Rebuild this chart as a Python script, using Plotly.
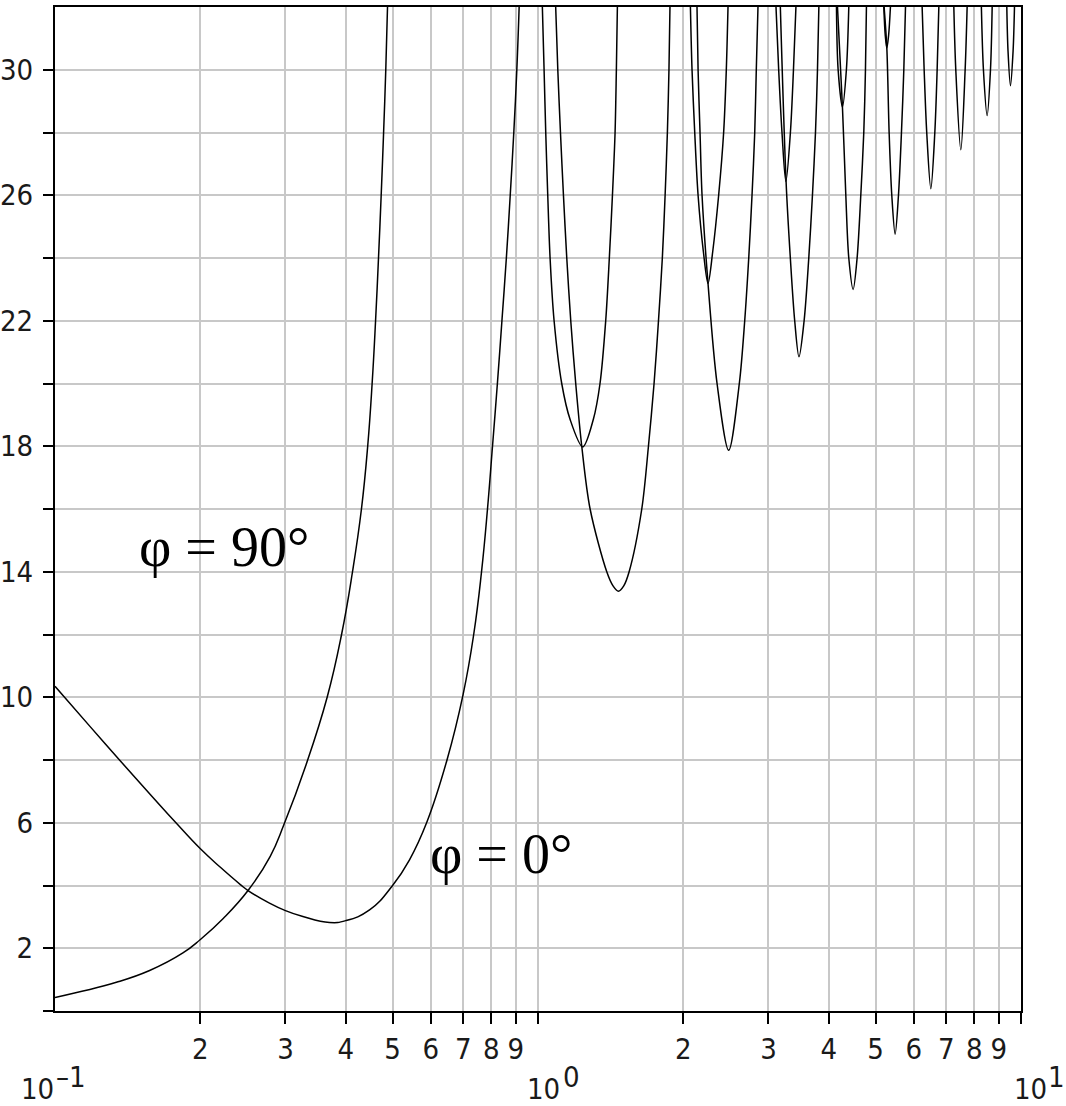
import math
import plotly.graph_objects as go

# ---------------- data ----------------
# phi = 0 deg curve, branches between asymptotes
p0_b1_x = [0.100, 0.118, 0.136, 0.158, 0.178, 0.200, 0.220, 0.242, 0.251, 0.278, 0.300, 0.326, 0.370,
           0.400, 0.448, 0.500, 0.542, 0.588, 0.648, 0.700, 0.736, 0.764, 0.786, 0.805,
           0.824, 0.842, 0.860, 0.876, 0.891, 0.904, 0.914]
p0_b1_y = [10.35, 9.08, 8.00, 6.88, 6.00, 5.17, 4.58, 4.03, 3.84, 3.44, 3.20, 3.01, 2.82,
           2.88, 3.22, 4.00, 4.82, 6.00, 8.00, 10.1, 12.0, 14.0, 16.0, 18.0,
           20.0, 22.0, 24.0, 26.0, 28.0, 30.0, 32.0]
p0_b2_x = [1.088, 1.099, 1.113, 1.129, 1.147, 1.169, 1.197, 1.232, 1.282, 1.388, 1.430, 1.467,
           1.505, 1.544, 1.640, 1.693, 1.739, 1.776, 1.809, 1.833, 1.853, 1.867, 1.876]
p0_b2_y = [32, 30, 28, 26, 24, 22, 20, 18, 16, 14, 13.55, 13.38,
           13.55, 14, 16, 18, 20, 22, 24, 26, 28, 30, 32]
p0_b3_x = [2.134, 2.145, 2.165, 2.186, 2.249, 2.348, 2.482, 2.611, 2.679, 2.731,
           2.774, 2.810, 2.831, 2.854]
p0_b3_y = [32, 30, 28, 26, 23.19, 20, 17.87, 20, 22, 24, 26, 28, 30, 32]
p0_b4_x = [3.175, 3.263, 3.330, 3.400, 3.470, 3.556, 3.636, 3.700, 3.754, 3.790, 3.815]
p0_b4_y = [32, 26.44, 24, 22, 20.85, 22, 24, 26, 28, 30, 32]
p0_b5_x = [4.169, 4.269, 4.338, 4.400, 4.492, 4.578, 4.659, 4.726, 4.764, 4.786]
p0_b5_y = [32, 28.81, 26, 24, 23.0, 24, 26, 28, 30, 32]
p0_b6_x = [5.207, 5.275, 5.333, 5.401, 5.488, 5.576, 5.656, 5.720, 5.766]
p0_b6_y = [32, 30.69, 28, 26, 24.76, 26, 28, 30, 32]
p0_b7_x = [6.242, 6.302, 6.380, 6.506, 6.631, 6.705, 6.759]
p0_b7_y = [32, 30, 28, 26.21, 28, 30, 32]
p0_b8_x = [7.260, 7.328, 7.506, 7.662, 7.735]
p0_b8_y = [32, 30, 27.45, 30, 32]
p0_b9_x = [8.279, 8.360, 8.509, 8.646, 8.716]
p0_b9_y = [32, 30, 28.54, 30, 32]
p0_b10_x = [9.346, 9.400, 9.511, 9.630, 9.694]
p0_b10_y = [32, 30.6, 29.49, 30.6, 32]

# phi = 90 deg curve
p90_b1_x = [0.100, 0.134, 0.157, 0.184, 0.200, 0.223, 0.251, 0.279, 0.298, 0.331, 0.366,
            0.392, 0.413, 0.431, 0.444, 0.4535, 0.4610, 0.4675, 0.4735, 0.4790, 0.4840, 0.4880]
p90_b1_y = [0.43, 0.915, 1.29, 1.85, 2.28, 2.95, 3.84, 4.93, 5.95, 7.85, 10.0,
            12.0, 14.0, 16.0, 18.0, 20, 22, 24, 26, 28, 30, 32]
p90_b2_x = [1.021, 1.0294, 1.0376, 1.0476, 1.0593, 1.0797, 1.1198, 1.165, 1.238, 1.302,
            1.344, 1.381, 1.405, 1.426, 1.444, 1.453, 1.460]
p90_b2_y = [32, 30, 28, 26, 24, 22, 20, 18.86, 17.98, 18.86, 20, 22, 24, 26, 28, 30, 32]
p90_b3_x = [2.068, 2.084, 2.111, 2.145, 2.200, 2.249, 2.300, 2.366, 2.423, 2.454, 2.474]
p90_b3_y = [32, 30, 28, 26, 24.2, 23.19, 24.2, 26, 28, 30, 32]
p90_b4_x = [3.110, 3.150, 3.200, 3.260, 3.331, 3.380, 3.420]
p90_b4_y = [32, 30, 28, 26.44, 28, 30, 32]
p90_b5_x = [4.149, 4.182, 4.269, 4.350, 4.400]
p90_b5_y = [32, 30, 28.81, 30, 32]
p90_b6_x = [5.200, 5.235, 5.275, 5.320, 5.366]
p90_b6_y = [32, 31.1, 30.69, 31.1, 32]

# ticks
x_tickvals = [0.2, 0.3, 0.4, 0.5, 0.6, 0.7, 0.8, 0.9, 1, 2, 3, 4, 5, 6, 7, 8, 9, 10]
x_ticktext = ["2", "3", "4", "5", "6", "7", "8", "9", "", "2", "3", "4", "5", "6", "7", "8", "9", ""]
y_tickvals = list(range(0, 32, 2))
y_ticktext = ["" if v % 4 == 0 else str(v) for v in y_tickvals]
decade_exp = ["\u20131", "0", "1"]
decade_pos = [0.1, 1, 10]

labels = ["\u03c6 = 90\u00b0", "\u03c6 = 0\u00b0"]
label_x = [0.148, 0.592]
label_y = [14.78, 5.0]


def join(branches):
    xs, ys = [], []
    for bx, by in branches:
        xs += list(bx) + [None]
        ys += list(by) + [None]
    return xs, ys


# wide low-frequency branches (smoothed more) and the narrow resonance dips
low_x, low_y = join([(p0_b1_x, p0_b1_y), (p90_b1_x, p90_b1_y)])
dips_x, dips_y = join([(p0_b2_x, p0_b2_y), (p0_b3_x, p0_b3_y), (p0_b4_x, p0_b4_y),
                       (p0_b5_x, p0_b5_y), (p0_b6_x, p0_b6_y), (p0_b7_x, p0_b7_y), (p0_b8_x, p0_b8_y),
                       (p0_b9_x, p0_b9_y), (p0_b10_x, p0_b10_y),
                       (p90_b2_x, p90_b2_y), (p90_b3_x, p90_b3_y),
                       (p90_b4_x, p90_b4_y), (p90_b5_x, p90_b5_y), (p90_b6_x, p90_b6_y)])

TICKFONT = dict(family="Liberation Sans Narrow, DejaVu Sans Condensed, sans-serif", size=29, color="#1a1a1a")

fig = go.Figure()
for xs, ys, nm, sm in [(low_x, low_y, "low", 1.3), (dips_x, dips_y, "dips", 0.9)]:
    fig.add_trace(go.Scatter(x=xs, y=ys, mode="lines", name=nm, connectgaps=False,
                             line=dict(color="black", width=1.5, shape="spline", smoothing=sm),
                             showlegend=False, hoverinfo="skip"))

fig.update_xaxes(type="log", range=[-1, 1], tickvals=x_tickvals, ticktext=x_ticktext,
                 ticks="outside", ticklen=11, tickwidth=1.5, tickcolor="black",
                 showline=True, linewidth=2, linecolor="black", mirror=True,
                 showgrid=True, gridcolor="#c8c8c8", gridwidth=1.5,
                 tickfont=TICKFONT, zeroline=False, automargin=False)
fig.update_yaxes(range=[0, 32], tickvals=y_tickvals, ticktext=y_ticktext,
                 ticks="outside", ticklen=10, tickwidth=1.5, tickcolor="black",
                 showline=True, linewidth=2, linecolor="black", mirror=True,
                 showgrid=True, gridcolor="#c8c8c8", gridwidth=1.5,
                 tickfont=TICKFONT, zeroline=False, ticklabelstandoff=4, automargin=False)

annotations = []
base_shift = [-18, 5, 9]
sup_shift = [16, 33, 35]
for p, e, bs, ss in zip(decade_pos, decade_exp, base_shift, sup_shift):
    annotations.append(dict(x=math.log10(p), y=0, xref="x", yref="paper", text="10", showarrow=False,
                            xanchor="center", yanchor="middle", xshift=bs, yshift=-78,
                            font=TICKFONT))
    annotations.append(dict(x=math.log10(p), y=0, xref="x", yref="paper", text=e, showarrow=False,
                            xanchor="center", yanchor="middle", xshift=ss, yshift=-66,
                            font=TICKFONT))
for t, lx, ly in zip(labels, label_x, label_y):
    annotations.append(dict(x=math.log10(lx), y=ly, xref="x", yref="y", text=t, showarrow=False,
                            xanchor="left", yanchor="middle",
                            font=dict(family="Liberation Serif, Times New Roman, serif", size=56,
                                      color="black")))
fig.update_layout(annotations=annotations)

fig.update_layout(width=1066, height=1106, margin=dict(l=55, r=45, t=7, b=95),
                  plot_bgcolor="white", paper_bgcolor="white")
fig.write_html("out.html")
